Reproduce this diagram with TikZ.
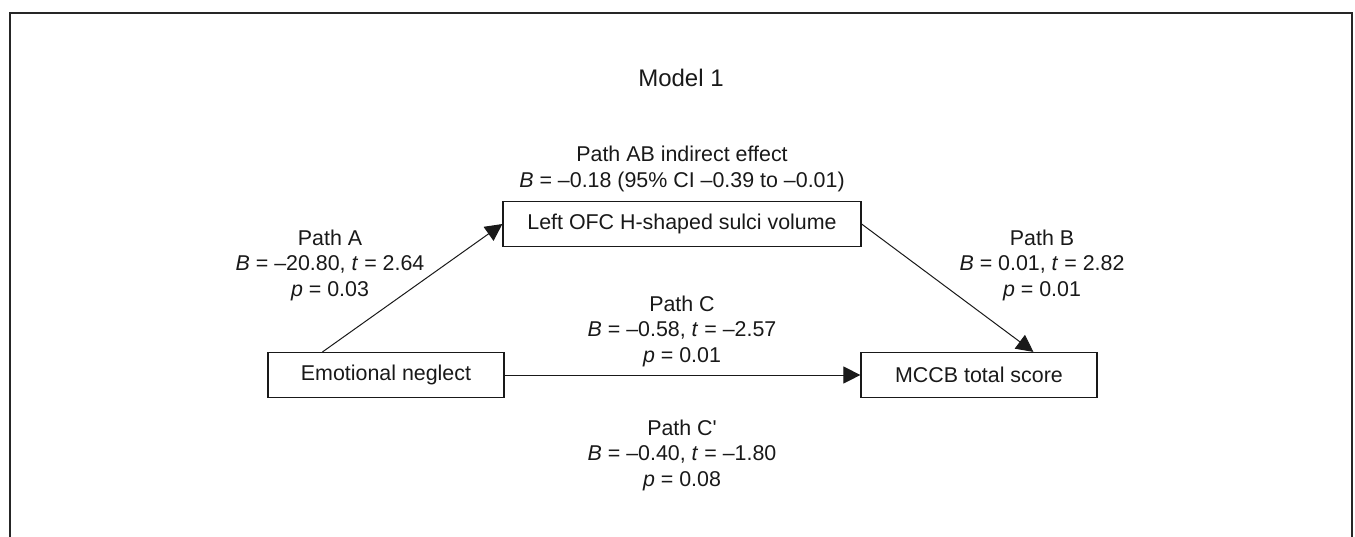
\documentclass[tikz,border=0pt]{standalone}
\usepackage{fontspec}
\setmainfont{Liberation Sans}
\usetikzlibrary{arrows.meta}

\tikzset{
    varbox/.style={draw, line width=0.6pt, inner sep=0pt, minimum height=22.5pt},
    pathlabel/.style={align=center, inner sep=0pt, font=\fontsize{10.7}{12.75}\selectfont},
    patharrow/.style={-{Triangle[length=8.5pt, width=8.5pt]}, line width=0.5pt}
}

\begin{document}
\begin{tikzpicture}[x=0.5pt, y=-0.5pt, font=\fontsize{10.7}{12.75}\selectfont, color={black!90}]
    \useasboundingbox (0,0) rectangle (1355,536);
    \draw[line width=1pt, black!85] (9.5,560) -- (9.5,13) -- (1352,13) -- (1352,560);

    \path   node[font=\fontsize{12}{14}\selectfont] (T) at (681, 78) {Model 1}
            node[varbox, minimum width=179pt] (O) at (682, 224) {Left OFC H-shaped sulci volume}
            node[varbox, minimum width=118pt] (E) at (386, 375) {Emotional neglect}
            node[varbox, minimum width=118pt] (M) at (979, 375) {MCCB total score};

    % path labels
    \path   node[pathlabel] (AB) at (682, 169) {Path AB indirect effect\\\textit{B} = –0.18 (95\% CI –0.39 to –0.01)}
            node[pathlabel] (PA) at (330, 265) {Path A\\\textit{B} = –20.80, \textit{t} = 2.64\\\textit{p} = 0.03}
            node[pathlabel] (PB) at (1042, 265) {Path B\\\textit{B} = 0.01, \textit{t} = 2.82\\\textit{p} = 0.01}
            node[pathlabel] (PC) at (682, 331) {Path C\\\textit{B} = –0.58, \textit{t} = –2.57\\\textit{p} = 0.01}
            node[pathlabel] (PC2) at (682, 455) {Path C\textquotesingle\\\textit{B} = –0.40, \textit{t} = –1.80\\\textit{p} = 0.08};

    \draw[patharrow] (E.160) -- (O.west);
    \draw[patharrow] (O.east) -- (M.23);
    \draw[patharrow] (E.east) -- (M.west);
\end{tikzpicture}
\end{document}
